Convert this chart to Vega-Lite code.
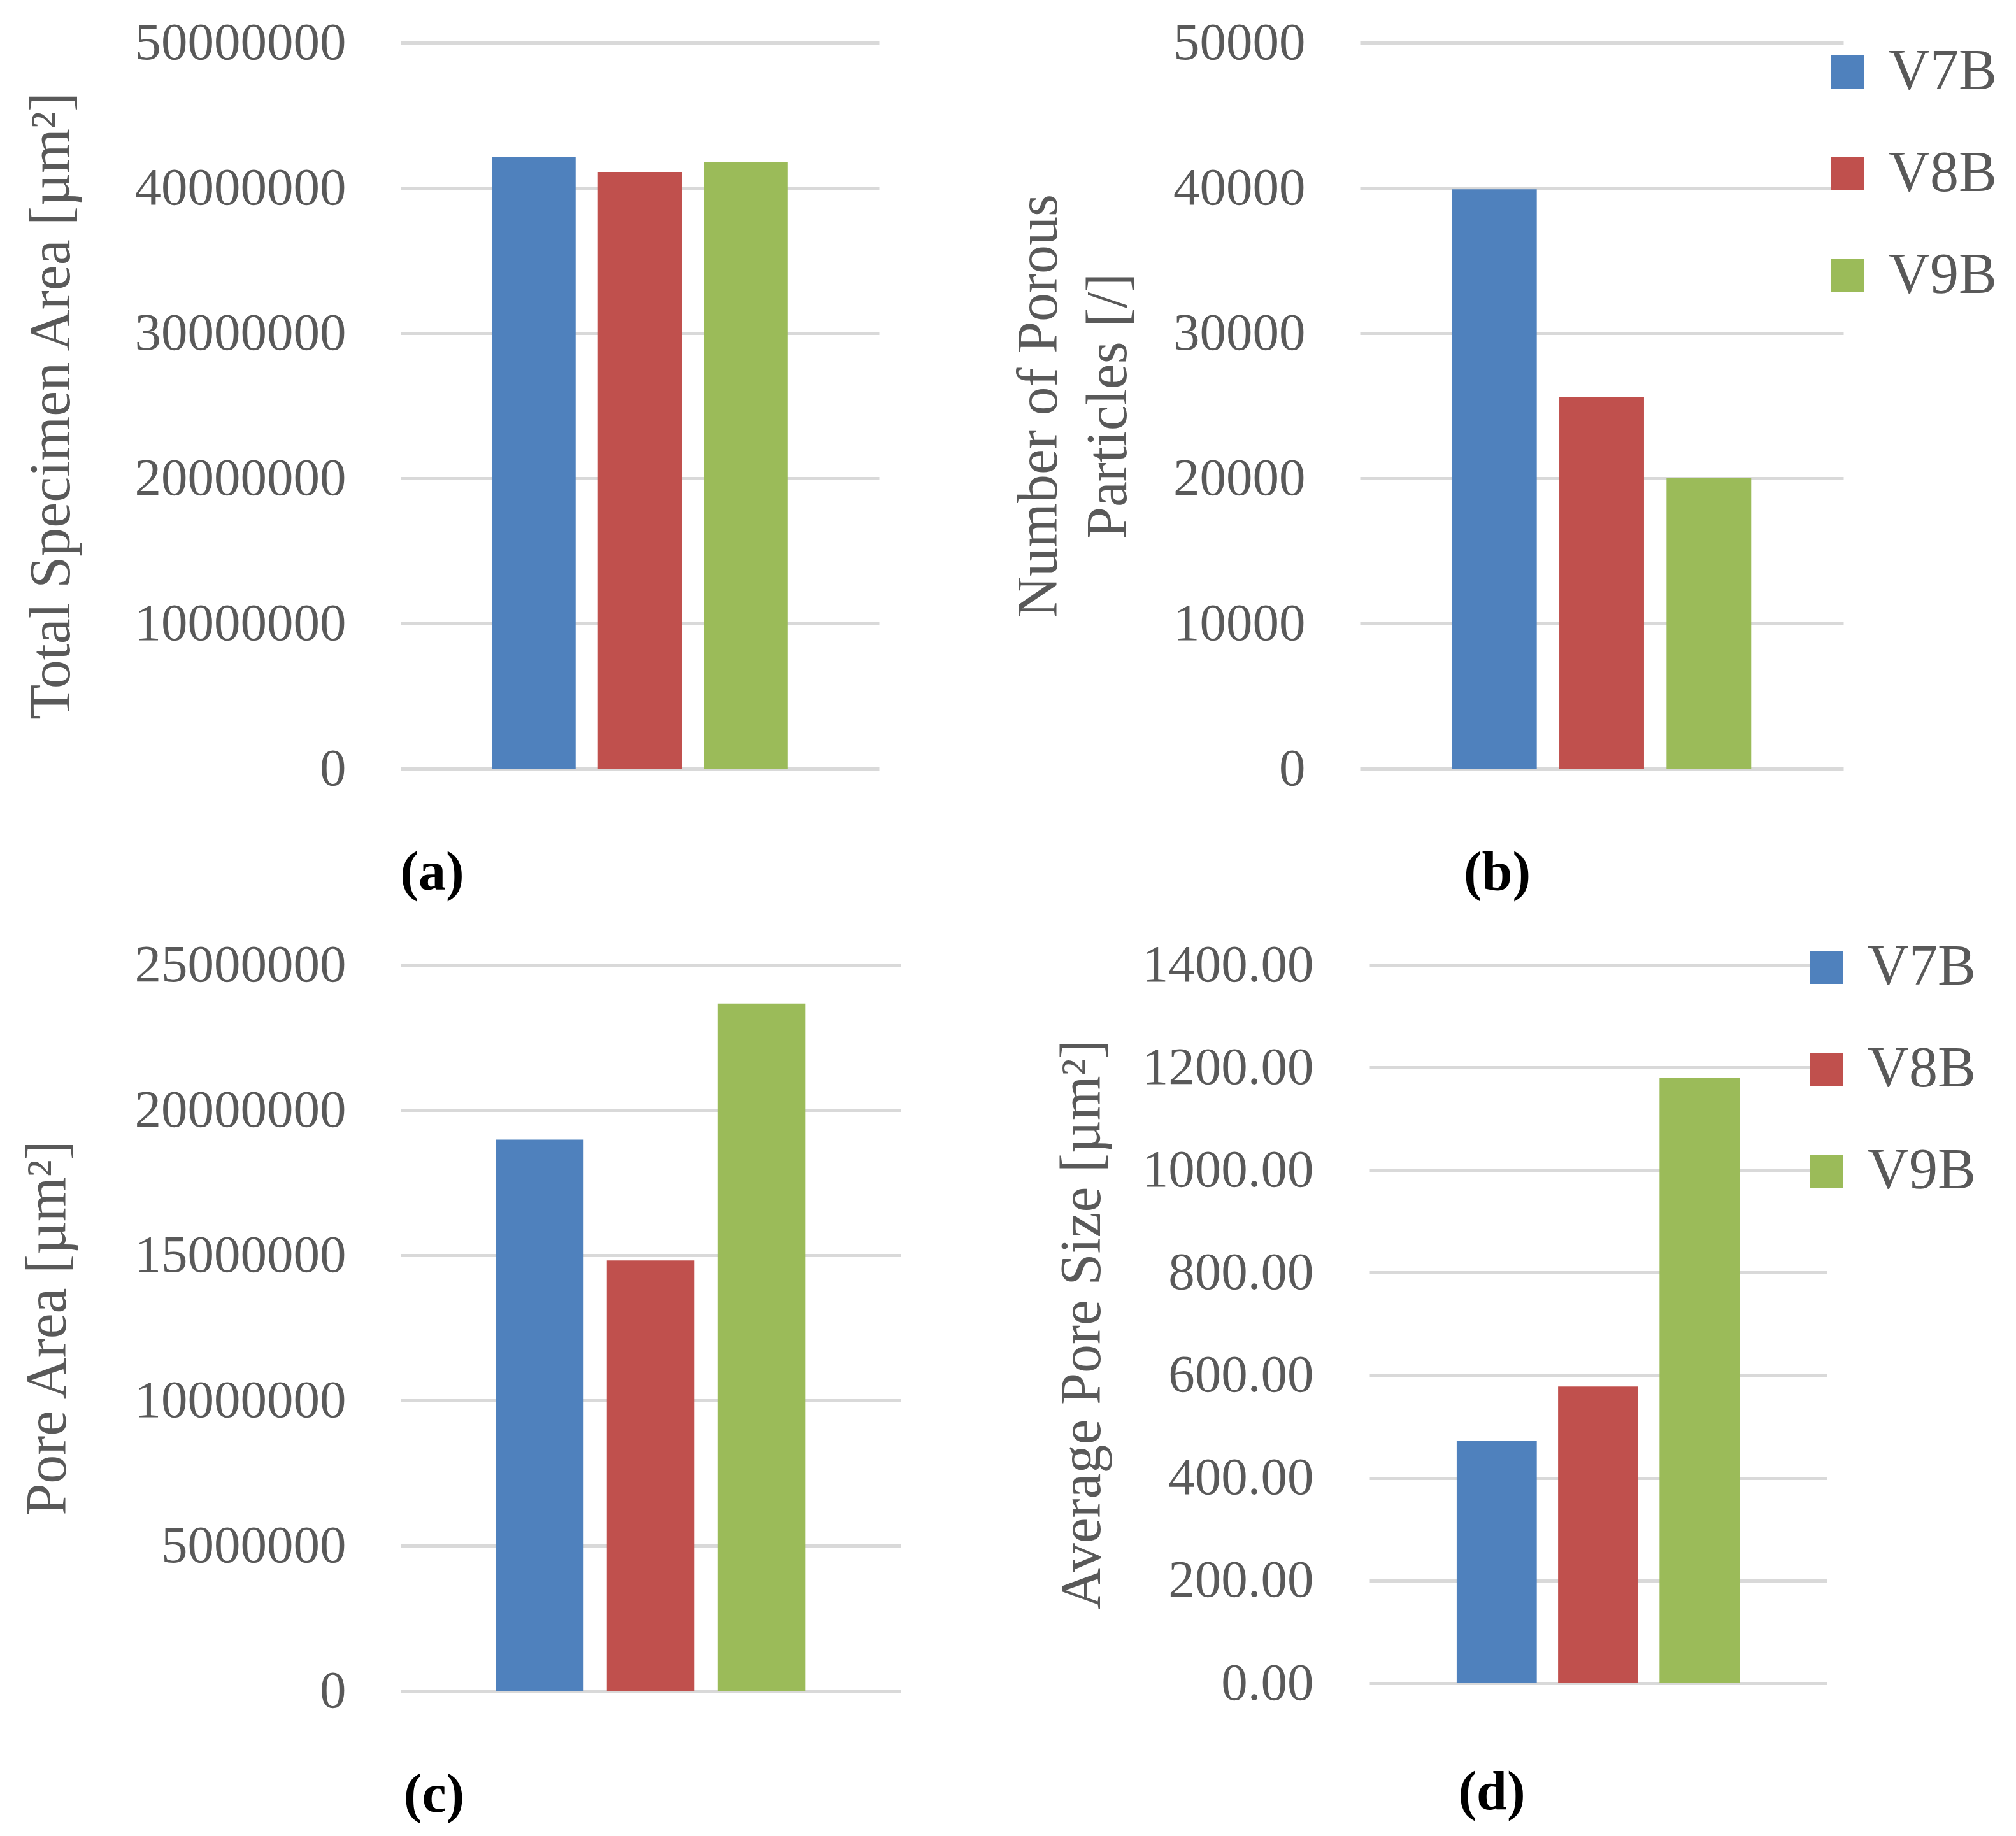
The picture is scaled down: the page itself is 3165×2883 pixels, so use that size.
{
  "$schema": "https://vega.github.io/schema/vega-lite/v6.json",
  "background": "white",
  "padding": {"left": 30, "top": 26, "right": 0, "bottom": 0},
  "data": {
    "values": [
      {"sample": "V7B", "area": 42100000, "particles": 39900, "pore_area": 18980000, "avg_pore": 472},
      {"sample": "V8B", "area": 41100000, "particles": 25600, "pore_area": 14820000, "avg_pore": 578},
      {"sample": "V9B", "area": 41800000, "particles": 20000, "pore_area": 23670000, "avg_pore": 1180}
    ]
  },
  "vconcat": [
    {
      "hconcat": [
        {
          "width": 751,
          "height": 1140,
          "title": {"text": "(a)", "orient": "bottom", "anchor": "middle", "dx": -326, "offset": 80},
          "mark": {"type": "bar"},
          "encoding": {
            "x": {"field": "sample", "type": "nominal", "axis": null,
                  "scale": {"paddingInner": 0.21, "paddingOuter": 0.86}},
            "y": {"field": "area", "type": "quantitative",
                  "title": "Total Specimen Area [µm²]",
                  "scale": {"domain": [0, 50000000], "nice": false},
                  "axis": {"values": [0, 10000000, 20000000, 30000000, 40000000, 50000000], "format": "d", "labelPadding": 86, "titlePadding": 302}},
            "color": {"field": "sample", "type": "nominal", "legend": null,
                      "scale": {"domain": ["V7B", "V8B", "V9B"], "range": ["#4F81BD", "#C0504D", "#9BBB59"]}}
          }
        },
        {
          "width": 759,
          "height": 1140,
          "title": {"text": "(b)", "orient": "bottom", "anchor": "middle", "dx": -164, "offset": 80},
          "mark": {"type": "bar"},
          "encoding": {
            "x": {"field": "sample", "type": "nominal", "axis": null,
                  "scale": {"paddingInner": 0.21, "paddingOuter": 0.86}},
            "y": {"field": "particles", "type": "quantitative",
                  "title": ["Number of Porous", "Particles [/]"],
                  "scale": {"domain": [0, 50000], "nice": false},
                  "axis": {"values": [0, 10000, 20000, 30000, 40000, 50000], "format": "d", "labelPadding": 86, "titlePadding": 149, "titleLineHeight": 109}},
            "color": {"field": "sample", "type": "nominal",
                      "scale": {"domain": ["V7B", "V8B", "V9B"], "range": ["#4F81BD", "#C0504D", "#9BBB59"]},
                      "legend": {"title": null, "orient": "none", "legendX": 720, "legendY": 1}}
          }
        }
      ],
      "spacing": 206,
      "resolve": {"scale": {"color": "independent"}}
    },
    {
      "hconcat": [
        {
          "width": 785,
          "height": 1140,
          "title": {"text": "(c)", "orient": "bottom", "anchor": "middle", "dx": -340, "offset": 80},
          "mark": {"type": "bar"},
          "encoding": {
            "x": {"field": "sample", "type": "nominal", "axis": null,
                  "scale": {"paddingInner": 0.21, "paddingOuter": 0.86}},
            "y": {"field": "pore_area", "type": "quantitative",
                  "title": "Pore Area [µm²]",
                  "scale": {"domain": [0, 25000000], "nice": false},
                  "axis": {"values": [0, 5000000, 10000000, 15000000, 20000000, 25000000], "format": "d", "labelPadding": 86, "titlePadding": 308}},
            "color": {"field": "sample", "type": "nominal", "legend": null,
                      "scale": {"domain": ["V7B", "V8B", "V9B"], "range": ["#4F81BD", "#C0504D", "#9BBB59"]}}
          }
        },
        {
          "width": 718,
          "height": 1128,
          "title": {"text": "(d)", "orient": "bottom", "anchor": "middle", "dx": -167, "offset": 88},
          "mark": {"type": "bar"},
          "encoding": {
            "x": {"field": "sample", "type": "nominal", "axis": null,
                  "scale": {"paddingInner": 0.21, "paddingOuter": 0.86}},
            "y": {"field": "avg_pore", "type": "quantitative",
                  "title": "Average Pore Size [µm²]",
                  "scale": {"domain": [0, 1400], "nice": false},
                  "axis": {"values": [0, 200, 400, 600, 800, 1000, 1200, 1400], "format": ".2f", "labelPadding": 88, "titlePadding": 205}},
            "color": {"field": "sample", "type": "nominal",
                      "scale": {"domain": ["V7B", "V8B", "V9B"], "range": ["#4F81BD", "#C0504D", "#9BBB59"]},
                      "legend": {"title": null, "orient": "none", "legendX": 672, "legendY": -41}}
          }
        }
      ],
      "spacing": 240,
      "resolve": {"scale": {"color": "independent"}}
    }
  ],
  "spacing": 60,
  "resolve": {"scale": {"color": "independent"}},
  "config": {
    "view": {"stroke": null},
    "font": "Liberation Serif",
    "axis": {
      "labelFont": "Liberation Serif",
      "labelFontSize": 83,
      "labelColor": "#595959",
      "labelLimit": 1000,
      "titleFont": "Liberation Serif",
      "titleFontSize": 90,
      "titleFontWeight": "normal",
      "titleColor": "#595959",
      "titleLimit": 2000,
      "gridColor": "#d9d9d9",
      "gridWidth": 5,
      "domain": false,
      "ticks": false
    },
    "legend": {
      "labelFont": "Liberation Serif",
      "labelFontSize": 90,
      "labelColor": "#595959",
      "labelLimit": 1000,
      "symbolType": "square",
      "symbolSize": 2704,
      "symbolStrokeWidth": 0,
      "labelOffset": 20,
      "rowPadding": 70,
      "padding": 0
    },
    "title": {
      "font": "Liberation Serif",
      "fontSize": 86,
      "fontWeight": "bold",
      "color": "#000000"
    }
  }
}
